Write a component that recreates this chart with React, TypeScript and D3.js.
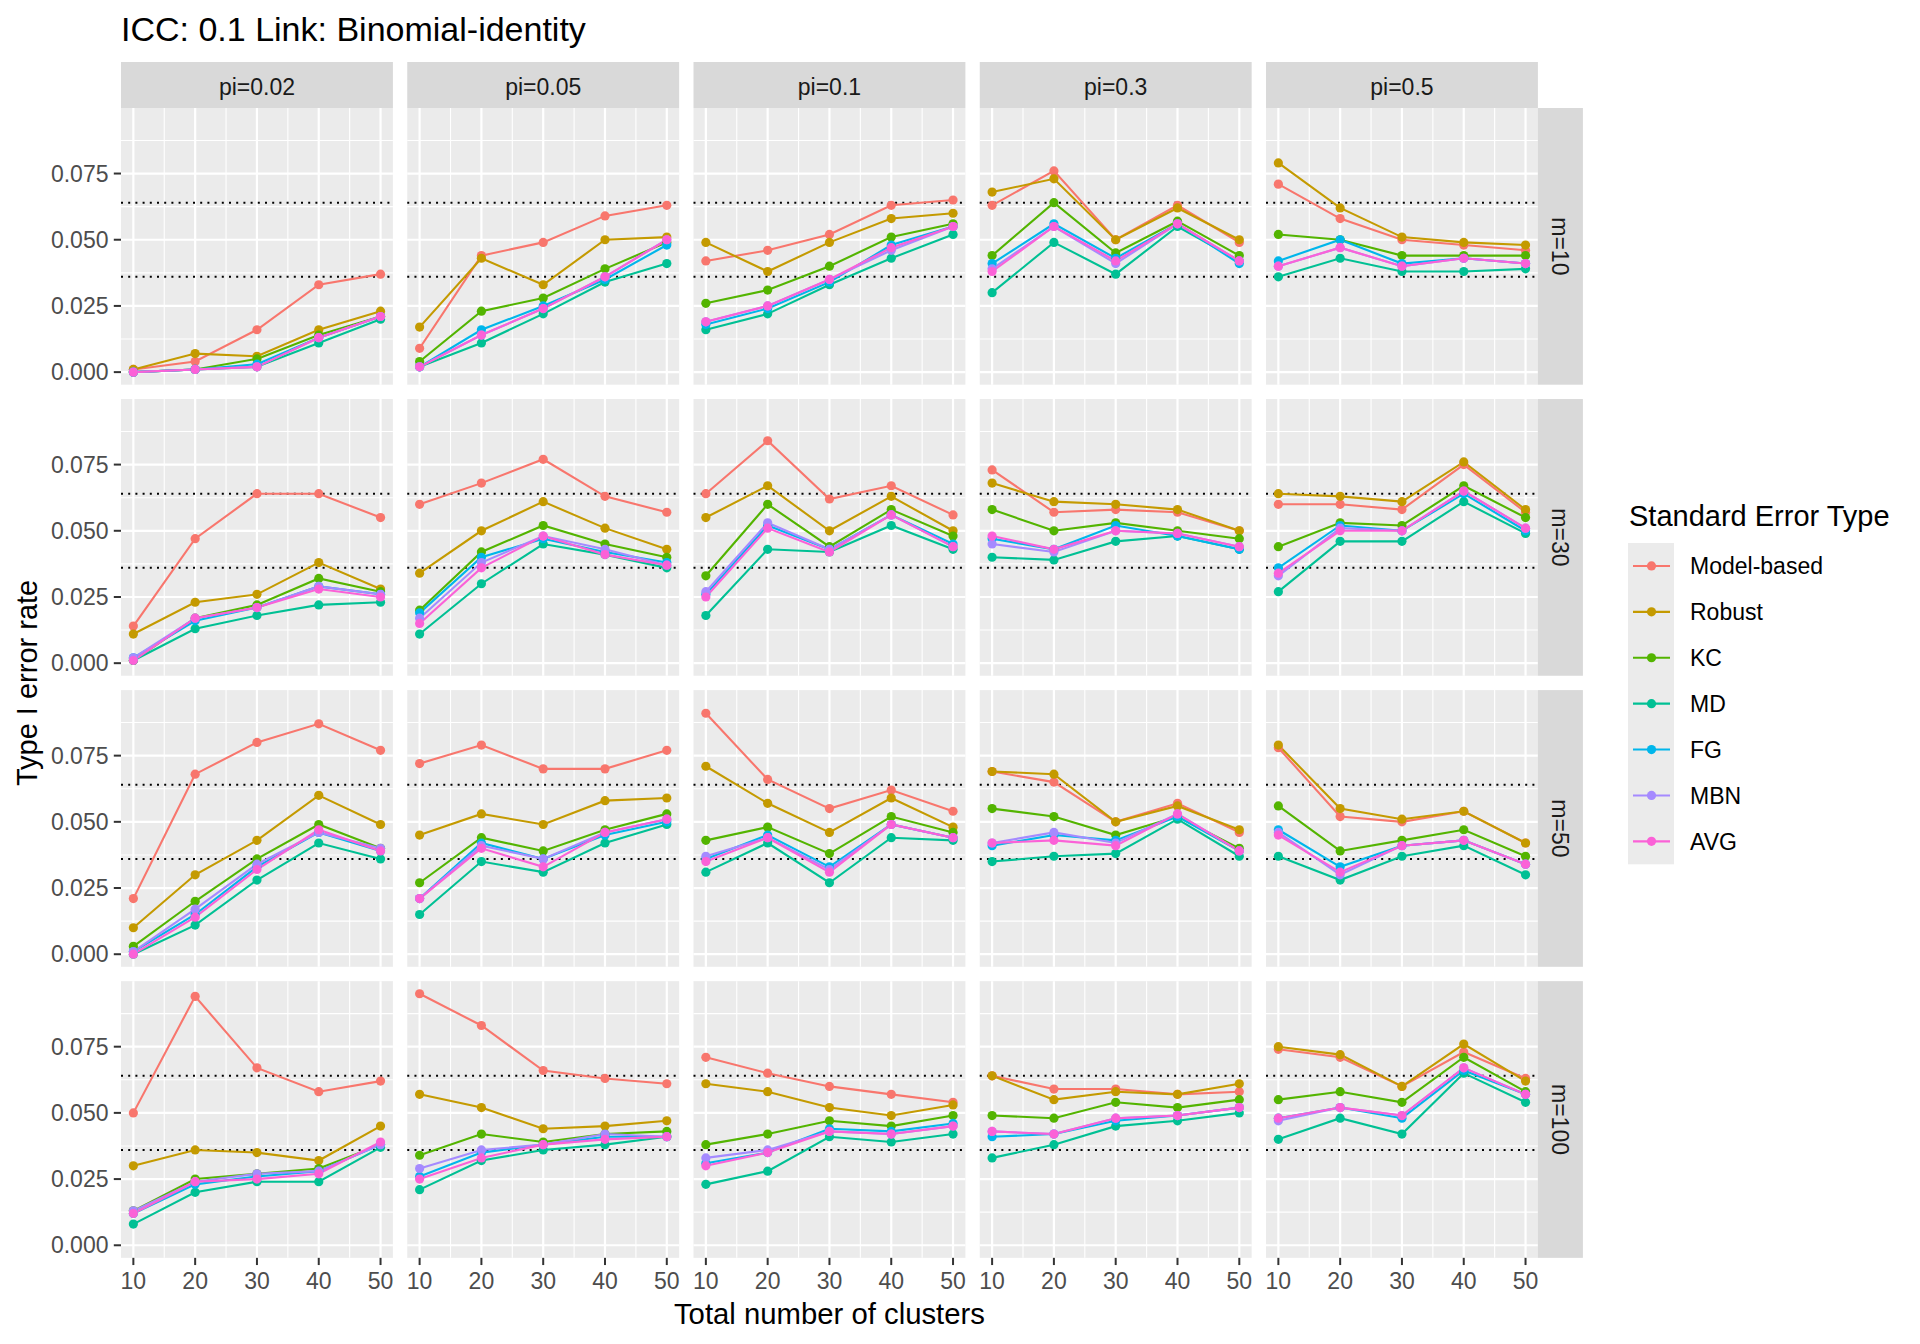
import * as React from "react";
import * as d3 from "d3";

// facet levels
const piLevels = ["pi=0.02", "pi=0.05", "pi=0.1", "pi=0.3", "pi=0.5"];
const mLevels = ["m=10", "m=30", "m=50", "m=100"];
const clusters = [10, 20, 30, 40, 50];
const yTicks = [0, 0.025, 0.05, 0.075];
const bounds = [0.036, 0.064];

const methods = ["Model-based", "Robust", "KC", "MD", "FG", "MBN", "AVG"];
const colors = ["#F8766D", "#C49A00", "#53B400", "#00C094", "#00B6EB", "#A58AFF", "#FB61D7"];

// values indexed [m][pi][clusters]
const modelBased = [
  [[0.001, 0.004, 0.016, 0.033, 0.037], [0.009, 0.044, 0.049, 0.059, 0.063], [0.042, 0.046, 0.052, 0.063, 0.065], [0.063, 0.076, 0.050, 0.063, 0.049], [0.071, 0.058, 0.050, 0.048, 0.046]],
  [[0.014, 0.047, 0.064, 0.064, 0.055], [0.060, 0.068, 0.077, 0.063, 0.057], [0.064, 0.084, 0.062, 0.067, 0.056], [0.073, 0.057, 0.058, 0.057, 0.050], [0.060, 0.060, 0.058, 0.075, 0.057]],
  [[0.021, 0.068, 0.080, 0.087, 0.077], [0.072, 0.079, 0.070, 0.070, 0.077], [0.091, 0.066, 0.055, 0.062, 0.054], [0.069, 0.065, 0.050, 0.057, 0.046], [0.078, 0.052, 0.050, 0.054, 0.042]],
  [[0.050, 0.094, 0.067, 0.058, 0.062], [0.095, 0.083, 0.066, 0.063, 0.061], [0.071, 0.065, 0.060, 0.057, 0.054], [0.064, 0.059, 0.059, 0.057, 0.058], [0.074, 0.071, 0.060, 0.073, 0.063]],
];
const robust = [
  [[0.001, 0.007, 0.006, 0.016, 0.023], [0.017, 0.043, 0.033, 0.050, 0.051], [0.049, 0.038, 0.049, 0.058, 0.060], [0.068, 0.073, 0.050, 0.062, 0.050], [0.079, 0.062, 0.051, 0.049, 0.048]],
  [[0.011, 0.023, 0.026, 0.038, 0.028], [0.034, 0.050, 0.061, 0.051, 0.043], [0.055, 0.067, 0.050, 0.063, 0.050], [0.068, 0.061, 0.060, 0.058, 0.050], [0.064, 0.063, 0.061, 0.076, 0.058]],
  [[0.010, 0.030, 0.043, 0.060, 0.049], [0.045, 0.053, 0.049, 0.058, 0.059], [0.071, 0.057, 0.046, 0.059, 0.048], [0.069, 0.068, 0.050, 0.056, 0.047], [0.079, 0.055, 0.051, 0.054, 0.042]],
  [[0.030, 0.036, 0.035, 0.032, 0.045], [0.057, 0.052, 0.044, 0.045, 0.047], [0.061, 0.058, 0.052, 0.049, 0.053], [0.064, 0.055, 0.058, 0.057, 0.061], [0.075, 0.072, 0.060, 0.076, 0.062]],
];
const kc = [
  [[0.000, 0.001, 0.005, 0.014, 0.021], [0.004, 0.023, 0.028, 0.039, 0.049], [0.026, 0.031, 0.040, 0.051, 0.056], [0.044, 0.064, 0.045, 0.057, 0.044], [0.052, 0.050, 0.044, 0.044, 0.044]],
  [[0.001, 0.017, 0.022, 0.032, 0.027], [0.020, 0.042, 0.052, 0.045, 0.040], [0.033, 0.060, 0.044, 0.058, 0.048], [0.058, 0.050, 0.053, 0.050, 0.047], [0.044, 0.053, 0.052, 0.067, 0.055]],
  [[0.003, 0.020, 0.036, 0.049, 0.040], [0.027, 0.044, 0.039, 0.047, 0.053], [0.043, 0.048, 0.038, 0.052, 0.046], [0.055, 0.052, 0.045, 0.052, 0.040], [0.056, 0.039, 0.043, 0.047, 0.037]],
  [[0.013, 0.025, 0.027, 0.029, 0.038], [0.034, 0.042, 0.039, 0.042, 0.043], [0.038, 0.042, 0.047, 0.045, 0.049], [0.049, 0.048, 0.054, 0.052, 0.055], [0.055, 0.058, 0.054, 0.071, 0.058]],
];
const md = [
  [[0.000, 0.001, 0.002, 0.011, 0.020], [0.002, 0.011, 0.022, 0.034, 0.041], [0.016, 0.022, 0.033, 0.043, 0.052], [0.030, 0.049, 0.037, 0.055, 0.042], [0.036, 0.043, 0.038, 0.038, 0.039]],
  [[0.001, 0.013, 0.018, 0.022, 0.023], [0.011, 0.030, 0.045, 0.041, 0.036], [0.018, 0.043, 0.042, 0.052, 0.043], [0.040, 0.039, 0.046, 0.048, 0.043], [0.027, 0.046, 0.046, 0.061, 0.049]],
  [[0.000, 0.011, 0.028, 0.042, 0.036], [0.015, 0.035, 0.031, 0.042, 0.049], [0.031, 0.042, 0.027, 0.044, 0.043], [0.035, 0.037, 0.038, 0.051, 0.037], [0.037, 0.028, 0.037, 0.041, 0.030]],
  [[0.008, 0.020, 0.024, 0.024, 0.037], [0.021, 0.032, 0.036, 0.038, 0.041], [0.023, 0.028, 0.041, 0.039, 0.042], [0.033, 0.038, 0.045, 0.047, 0.050], [0.040, 0.048, 0.042, 0.065, 0.054]],
];
const fg = [
  [[0.000, 0.001, 0.003, 0.013, 0.021], [0.002, 0.016, 0.025, 0.035, 0.048], [0.018, 0.024, 0.034, 0.048, 0.055], [0.041, 0.056, 0.043, 0.056, 0.041], [0.042, 0.050, 0.041, 0.043, 0.041]],
  [[0.002, 0.016, 0.021, 0.029, 0.026], [0.019, 0.040, 0.047, 0.042, 0.038], [0.026, 0.052, 0.043, 0.056, 0.045], [0.047, 0.043, 0.052, 0.048, 0.043], [0.036, 0.052, 0.050, 0.064, 0.050]],
  [[0.001, 0.015, 0.033, 0.046, 0.039], [0.021, 0.042, 0.036, 0.045, 0.050], [0.036, 0.045, 0.033, 0.049, 0.044], [0.041, 0.045, 0.043, 0.052, 0.039], [0.047, 0.033, 0.041, 0.043, 0.034]],
  [[0.012, 0.023, 0.026, 0.028, 0.038], [0.026, 0.035, 0.038, 0.041, 0.041], [0.031, 0.035, 0.044, 0.043, 0.046], [0.041, 0.042, 0.047, 0.049, 0.052], [0.048, 0.052, 0.048, 0.066, 0.057]],
];
const mbn = [
  [[0.000, 0.001, 0.002, 0.013, 0.021], [0.002, 0.014, 0.024, 0.036, 0.050], [0.019, 0.025, 0.035, 0.046, 0.055], [0.039, 0.055, 0.041, 0.056, 0.042], [0.040, 0.047, 0.040, 0.043, 0.041]],
  [[0.002, 0.017, 0.021, 0.029, 0.026], [0.017, 0.038, 0.048, 0.043, 0.037], [0.027, 0.053, 0.043, 0.056, 0.044], [0.045, 0.042, 0.050, 0.049, 0.044], [0.033, 0.051, 0.050, 0.065, 0.051]],
  [[0.001, 0.017, 0.034, 0.046, 0.040], [0.021, 0.041, 0.036, 0.046, 0.051], [0.037, 0.044, 0.032, 0.049, 0.044], [0.042, 0.046, 0.042, 0.053, 0.039], [0.046, 0.030, 0.041, 0.043, 0.034]],
  [[0.013, 0.024, 0.027, 0.028, 0.038], [0.029, 0.036, 0.038, 0.042, 0.041], [0.033, 0.036, 0.043, 0.042, 0.045], [0.043, 0.042, 0.048, 0.049, 0.052], [0.047, 0.052, 0.049, 0.067, 0.057]],
];
const avg = [
  [[0.000, 0.001, 0.002, 0.013, 0.021], [0.002, 0.014, 0.024, 0.036, 0.050], [0.019, 0.025, 0.035, 0.047, 0.055], [0.038, 0.055, 0.042, 0.056, 0.042], [0.040, 0.047, 0.040, 0.043, 0.041]],
  [[0.001, 0.017, 0.021, 0.028, 0.025], [0.015, 0.036, 0.048, 0.041, 0.037], [0.025, 0.051, 0.042, 0.056, 0.044], [0.048, 0.043, 0.050, 0.049, 0.044], [0.034, 0.050, 0.050, 0.065, 0.051]],
  [[0.000, 0.014, 0.032, 0.047, 0.039], [0.021, 0.040, 0.033, 0.046, 0.051], [0.035, 0.044, 0.031, 0.049, 0.044], [0.042, 0.043, 0.041, 0.053, 0.039], [0.045, 0.031, 0.041, 0.043, 0.034]],
  [[0.012, 0.024, 0.025, 0.027, 0.039], [0.025, 0.033, 0.038, 0.040, 0.041], [0.030, 0.035, 0.043, 0.042, 0.045], [0.043, 0.042, 0.048, 0.049, 0.052], [0.048, 0.052, 0.049, 0.067, 0.057]],
];

const seriesData = [modelBased, robust, kc, md, fg, mbn, avg];

const W = 1920;
const H = 1344;
const FONT = "'Liberation Sans', Arial, Helvetica, sans-serif";

function drawChart(svgRef: React.RefObject<SVGSVGElement>) {
  const svg = d3.select(svgRef.current);
  svg.selectAll("*").remove();
  svg.attr("width", W).attr("height", H).style("background", "#fff").style("font-family", FONT);

  const left = 121;
  const top = 108;
  const pw = 271.9;
  const ph = 276.7;
  const gap = 14.35;
  const stripH = 46;
  const stripW = 45;

  // scales with ggplot-like 5% expansion
  const allVals = seriesData.flat(3);
  const yMin = d3.min(allVals)!;
  const yMax = d3.max(allVals)!;
  const yPad = (yMax - yMin) * 0.05;
  const x = d3.scaleLinear().domain([8, 52]).range([0, pw]);
  const y = d3.scaleLinear().domain([yMin - yPad, yMax + yPad]).range([ph, 0]);
  const xMinor = [15, 25, 35, 45];
  const yMinor = [0.0125, 0.0375, 0.0625, 0.0875];

  const line = d3
    .line<number>()
    .x((_, i) => x(clusters[i]))
    .y((v) => y(v));

  // title
  svg
    .append("text")
    .attr("x", left)
    .attr("y", 41)
    .attr("font-size", 34)
    .attr("fill", "#000")
    .text("ICC: 0.1 Link: Binomial-identity");

  mLevels.forEach((mLab, r) => {
    const py = top + r * (ph + gap);
    piLevels.forEach((piLab, c) => {
      const px = left + c * (pw + gap);
      const g = svg.append("g").attr("transform", `translate(${px},${py})`);
      g.append("rect").attr("width", pw).attr("height", ph).attr("fill", "#EBEBEB");

      // grid
      g.selectAll(".ymin")
        .data(yMinor)
        .join("line")
        .attr("x1", 0).attr("x2", pw)
        .attr("y1", (d) => y(d)).attr("y2", (d) => y(d))
        .attr("stroke", "#fff").attr("stroke-width", 1.1);
      g.selectAll(".xmin")
        .data(xMinor)
        .join("line")
        .attr("y1", 0).attr("y2", ph)
        .attr("x1", (d) => x(d)).attr("x2", (d) => x(d))
        .attr("stroke", "#fff").attr("stroke-width", 1.1);
      g.selectAll(".ymaj")
        .data(yTicks)
        .join("line")
        .attr("x1", 0).attr("x2", pw)
        .attr("y1", (d) => y(d)).attr("y2", (d) => y(d))
        .attr("stroke", "#fff").attr("stroke-width", 2.2);
      g.selectAll(".xmaj")
        .data(clusters)
        .join("line")
        .attr("y1", 0).attr("y2", ph)
        .attr("x1", (d) => x(d)).attr("x2", (d) => x(d))
        .attr("stroke", "#fff").attr("stroke-width", 2.2);

      // reference band
      bounds.forEach((b) => {
        g.append("line")
          .attr("x1", 0).attr("x2", pw)
          .attr("y1", y(b)).attr("y2", y(b))
          .attr("stroke", "#000")
          .attr("stroke-width", 2)
          .attr("stroke-dasharray", "2 5.2");
      });

      // lines then points
      seriesData.forEach((s, k) => {
        g.append("path")
          .attr("d", line(s[r][c]))
          .attr("fill", "none")
          .attr("stroke", colors[k])
          .attr("stroke-width", 2.1);
      });
      seriesData.forEach((s, k) => {
        g.selectAll(`.pt${k}`)
          .data(s[r][c])
          .join("circle")
          .attr("cx", (_, i) => x(clusters[i]))
          .attr("cy", (v) => y(v))
          .attr("r", 4.6)
          .attr("fill", colors[k]);
      });

      // top strip
      if (r === 0) {
        svg.append("rect")
          .attr("x", px).attr("y", top - stripH)
          .attr("width", pw).attr("height", stripH)
          .attr("fill", "#D9D9D9");
        svg.append("text")
          .attr("x", px + pw / 2).attr("y", top - stripH / 2 + 9.5)
          .attr("text-anchor", "middle")
          .attr("font-size", 23)
          .attr("fill", "#1A1A1A")
          .text(piLab);
      }

      // y axis
      if (c === 0) {
        yTicks.forEach((t) => {
          svg.append("line")
            .attr("x1", px - 7.2).attr("x2", px)
            .attr("y1", py + y(t)).attr("y2", py + y(t))
            .attr("stroke", "#333").attr("stroke-width", 2);
          svg.append("text")
            .attr("x", px - 12.5).attr("y", py + y(t) + 8)
            .attr("text-anchor", "end")
            .attr("font-size", 23)
            .attr("fill", "#4D4D4D")
            .text(d3.format(".3f")(t));
        });
      }

      // x axis
      if (r === mLevels.length - 1) {
        clusters.forEach((t) => {
          svg.append("line")
            .attr("x1", px + x(t)).attr("x2", px + x(t))
            .attr("y1", py + ph).attr("y2", py + ph + 7.2)
            .attr("stroke", "#333").attr("stroke-width", 2);
          svg.append("text")
            .attr("x", px + x(t)).attr("y", py + ph + 31)
            .attr("text-anchor", "middle")
            .attr("font-size", 23)
            .attr("fill", "#4D4D4D")
            .text(t);
        });
      }
    });

    // right strip
    const sx = left + piLevels.length * pw + (piLevels.length - 1) * gap;
    svg.append("rect")
      .attr("x", sx).attr("y", py)
      .attr("width", stripW).attr("height", ph)
      .attr("fill", "#D9D9D9");
    svg.append("text")
      .attr("transform", `translate(${sx + stripW / 2 - 8},${py + ph / 2}) rotate(90)`)
      .attr("text-anchor", "middle")
      .attr("font-size", 23)
      .attr("fill", "#1A1A1A")
      .text(mLab);
  });

  const panelsRight = left + piLevels.length * pw + (piLevels.length - 1) * gap;
  const panelsBottom = top + mLevels.length * ph + (mLevels.length - 1) * gap;

  // axis titles
  svg.append("text")
    .attr("x", (left + panelsRight) / 2)
    .attr("y", panelsBottom + 66)
    .attr("text-anchor", "middle")
    .attr("font-size", 29.3)
    .attr("fill", "#000")
    .text("Total number of clusters");
  svg.append("text")
    .attr("transform", `translate(37,${(top + panelsBottom) / 2}) rotate(-90)`)
    .attr("text-anchor", "middle")
    .attr("font-size", 29)
    .attr("fill", "#000")
    .text("Type I error rate");

  // legend
  const lx = 1628;
  const ly = 543;
  const keyH = 45.9;
  const keyW = 46;
  svg.append("text")
    .attr("x", lx + 1).attr("y", 526)
    .attr("font-size", 29)
    .attr("fill", "#000")
    .text("Standard Error Type");
  svg.append("rect")
    .attr("x", lx).attr("y", ly)
    .attr("width", keyW).attr("height", keyH * methods.length)
    .attr("fill", "#EBEBEB");
  methods.forEach((m, i) => {
    const cy = ly + keyH * (i + 0.5);
    svg.append("line")
      .attr("x1", lx + 5).attr("x2", lx + keyW - 4)
      .attr("y1", cy).attr("y2", cy)
      .attr("stroke", colors[i]).attr("stroke-width", 2.1);
    svg.append("circle")
      .attr("cx", lx + keyW / 2 + 0.5).attr("cy", cy)
      .attr("r", 4.6).attr("fill", colors[i]);
    svg.append("text")
      .attr("x", lx + 62).attr("y", cy + 8.5)
      .attr("font-size", 23)
      .attr("fill", "#000")
      .text(m);
  });
}

const App: React.FunctionComponent = () => {
  const svg = React.useRef<SVGSVGElement>(null);
  React.useEffect(() => {
    drawChart(svg);
  }, [svg]);

  return (
    <div style={{ position: "absolute", left: 0, top: 0 }}>
      <svg ref={svg} />
    </div>
  );
};

export default App;
